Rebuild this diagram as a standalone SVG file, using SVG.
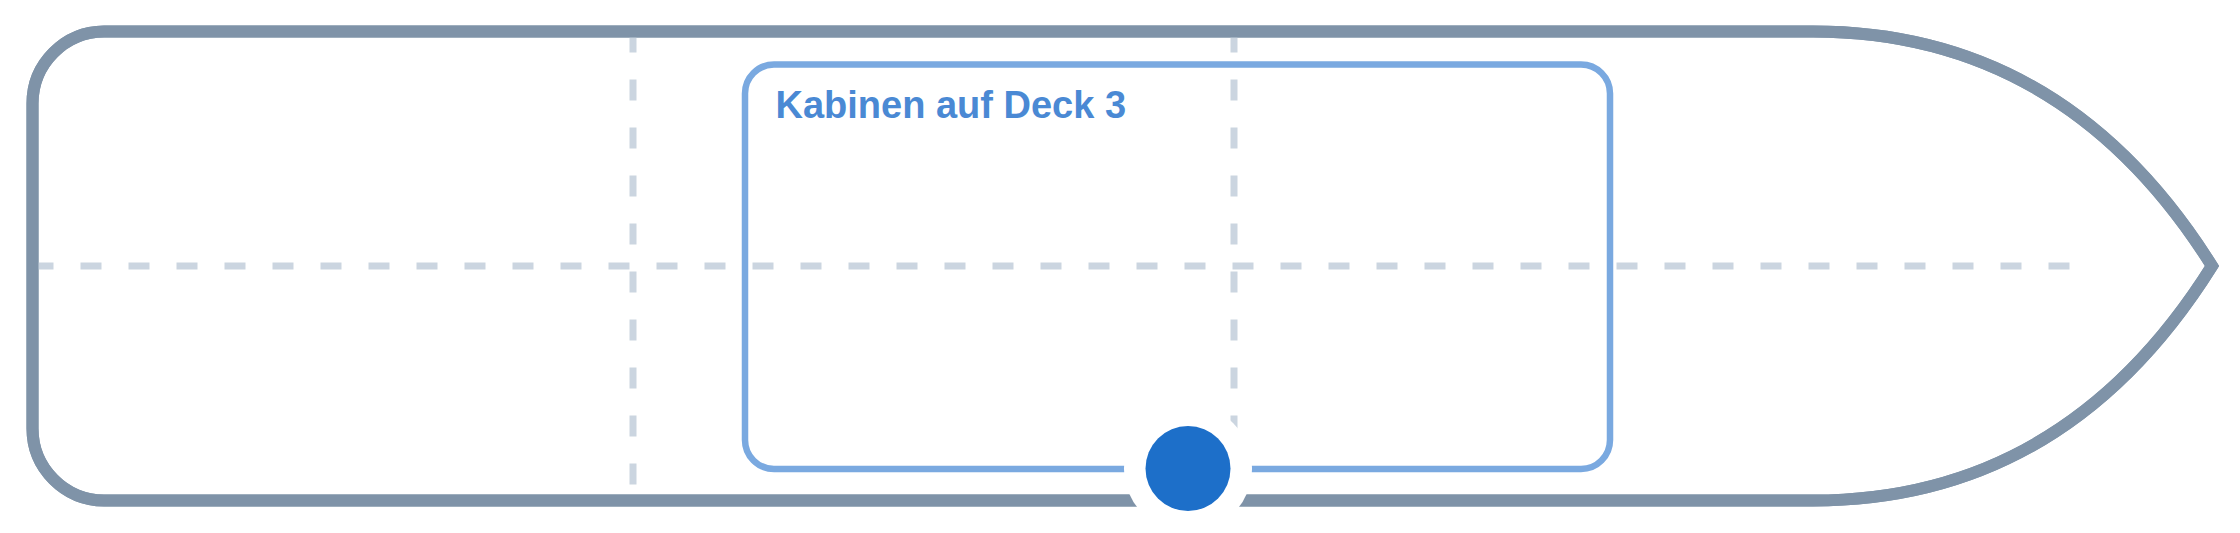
<svg xmlns="http://www.w3.org/2000/svg" width="2240" height="533" viewBox="0 0 2240 533">
  <style>
    .hull { fill: #ffffff; stroke: #7f93a8; stroke-width: 12; stroke-linejoin: miter; }
    .grid { stroke: #cbd5e0; stroke-width: 7; stroke-dasharray: 21 27; fill: none; }
    .cabin { fill: none; stroke: #7aa9e0; stroke-width: 6.5; }
    .label { font-family: "Liberation Sans", Arial, Helvetica, sans-serif; font-weight: bold; font-size: 38px; fill: #4a89d4; }
  </style>
  <rect width="2240" height="533" fill="#ffffff"/>
  <g id="hull">
    <path class="hull" d="M 104 31.5 L 1813 31.5 Q 2065 31.5 2212 266 Q 2065 500.5 1813 500.5 L 104 500.5 A 72 72 0 0 1 32.5 428.5 L 32.5 103.5 A 72 72 0 0 1 104 31.5 Z"/>
  </g>
  <g id="grid">
    <line class="grid" x1="32.5" y1="266" x2="2075" y2="266"/>
    <line class="grid" x1="633" y1="31.5" x2="633" y2="500.5"/>
    <line class="grid" x1="1234" y1="31.5" x2="1234" y2="500.5"/>
  </g>
  <g id="hull-outline">
    <path fill="none" stroke="#7f93a8" stroke-width="12" d="M 104 31.5 L 1813 31.5 Q 2065 31.5 2212 266 Q 2065 500.5 1813 500.5 L 104 500.5 A 72 72 0 0 1 32.5 428.5 L 32.5 103.5 A 72 72 0 0 1 104 31.5 Z"/>
  </g>
  <g id="cabins">
    <rect class="cabin" x="745" y="64.5" width="865" height="404.5" rx="29" ry="29"/>
    <text class="label" x="775.5" y="117.5">Kabinen auf Deck 3</text>
  </g>
  <g id="connectors"></g>
  <g id="marker">
    <circle cx="1188" cy="468.5" r="64" fill="#ffffff"/>
    <circle cx="1188" cy="468.5" r="42.5" fill="#1d6fc9"/>
  </g>
</svg>
